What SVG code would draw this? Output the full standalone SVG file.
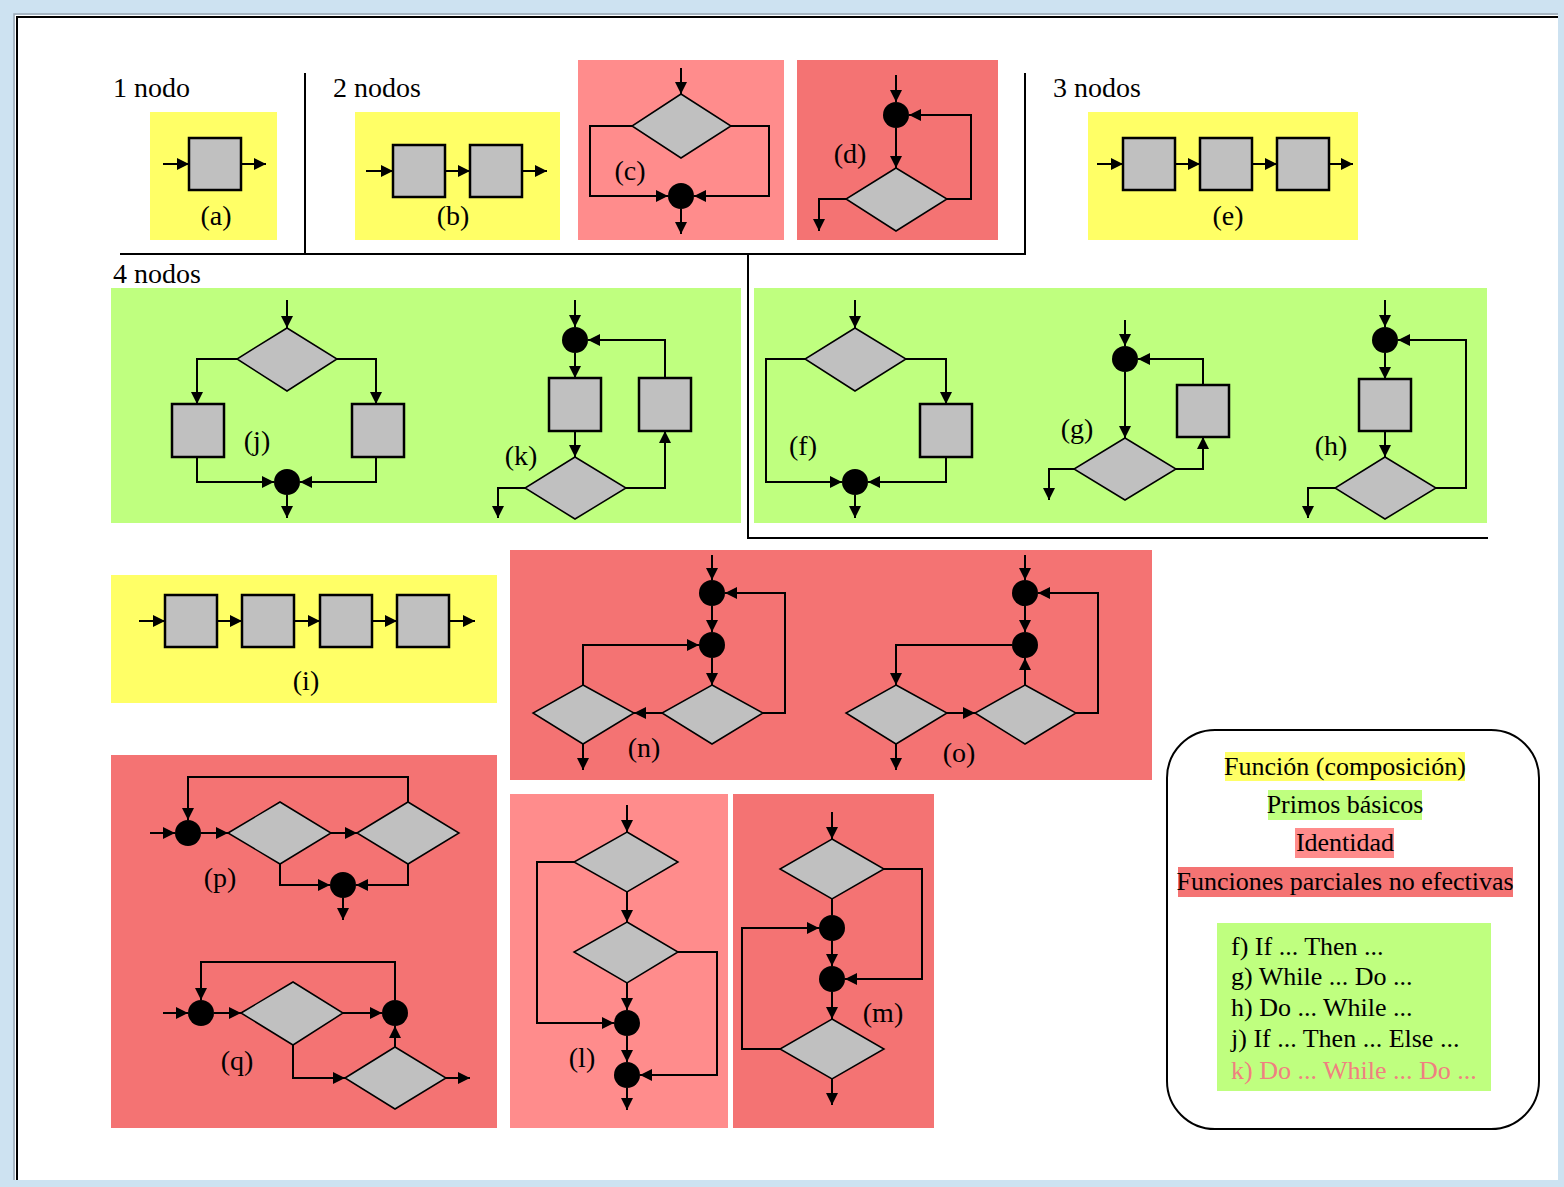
<svg xmlns="http://www.w3.org/2000/svg" width="1564" height="1187" viewBox="0 0 1564 1187">
<defs>
<marker id="ah" viewBox="0 0 12 12" refX="12" refY="6" markerWidth="12" markerHeight="12" markerUnits="userSpaceOnUse" orient="auto"><path d="M0,0 L12,6 L0,12 z" fill="#000"/></marker>
<style>
.y{fill:#ffff66}.g{fill:#bfff7f}.p{fill:#ff8c8c}.r{fill:#f47373}
.box{fill:#c0c0c0;stroke:#000;stroke-width:2.5}
.dia{fill:#c0c0c0;stroke:#000;stroke-width:1.5}
.dot{fill:#000}
.c{fill:none;stroke:#000;stroke-width:2;marker-end:url(#ah)}
.n{fill:none;stroke:#000;stroke-width:2}
.sep{fill:none;stroke:#000;stroke-width:2}
.h{font-family:"Liberation Serif",serif;font-size:28px;fill:#000}
.lb{font-family:"Liberation Serif",serif;font-size:28px;fill:#000;text-anchor:middle}
.lg{font-family:"Liberation Serif",serif;font-size:26px;fill:#000}
</style>
</defs>
<rect x="0" y="0" width="1564" height="1187" fill="#cde2f1"/>
<rect x="15" y="15" width="1543" height="1165" fill="#fff"/>
<path d="M14,1180 V14 H1558" fill="none" stroke="#9aa8b4" stroke-width="1.5"/>
<path d="M17,1180 V17 H1558" fill="none" stroke="#000" stroke-width="2"/>

<g id="separators">
<path class="sep" d="M305,73 V254"/>
<path class="sep" d="M120,254 H1025 V73"/>
<path class="sep" d="M748,254 V538 H1488"/>
</g>

<g id="headings">
<text class="h" x="113" y="97">1 nodo</text>
<text class="h" x="333" y="97">2 nodos</text>
<text class="h" x="1053" y="97">3 nodos</text>
<text class="h" x="113" y="283">4 nodos</text>
</g>

<g id="panels">
<rect class="y" x="150" y="112" width="127" height="128"/>
<rect class="y" x="355" y="112" width="205" height="128"/>
<rect class="p" x="578" y="60" width="206" height="180"/>
<rect class="r" x="797" y="60" width="201" height="180"/>
<rect class="y" x="1088" y="112" width="270" height="128"/>
<rect class="g" x="111" y="288" width="630" height="235"/>
<rect class="g" x="754" y="288" width="733" height="235"/>
<rect class="y" x="111" y="575" width="386" height="128"/>
<rect class="r" x="510" y="550" width="642" height="230"/>
<rect class="r" x="111" y="755" width="386" height="373"/>
<rect class="p" x="510" y="794" width="218" height="334"/>
<rect class="r" x="733" y="794" width="201" height="334"/>
</g>

<g id="connectors">
<!-- a -->
<path class="c" d="M163,164 H189"/><path class="c" d="M241,164 H266"/>
<!-- b -->
<path class="c" d="M366,171 H393"/><path class="c" d="M445,171 H470"/><path class="c" d="M522,171 H547"/>
<!-- c -->
<path class="c" d="M681,68 V94"/>
<path class="c" d="M632,126 H590 V196 H668"/>
<path class="c" d="M731,126 H769 V196 H694"/>
<path class="c" d="M681,209 V234"/>
<!-- d -->
<path class="c" d="M896,75 V102"/>
<path class="c" d="M896,128 V168"/>
<path class="c" d="M947,199 H971 V115 H909"/>
<path class="c" d="M846,199 H819 V231"/>
<!-- e -->
<path class="c" d="M1097,164 H1123"/><path class="c" d="M1175,164 H1200"/><path class="c" d="M1252,164 H1277"/><path class="c" d="M1329,164 H1353"/>
<!-- j -->
<path class="c" d="M287,300 V328"/>
<path class="c" d="M237,359 H197 V404"/>
<path class="c" d="M337,359 H376 V404"/>
<path class="c" d="M197,457 V482 H274"/>
<path class="c" d="M376,457 V482 H300"/>
<path class="c" d="M287,495 V518"/>
<!-- k -->
<path class="c" d="M575,300 V327"/>
<path class="c" d="M575,353 V378"/>
<path class="c" d="M575,431 V457"/>
<path class="c" d="M626,488 H665 V431"/>
<path class="c" d="M665,378 V340 H588"/>
<path class="c" d="M525,488 H498 V518"/>
<!-- f -->
<path class="c" d="M855,300 V328"/>
<path class="c" d="M906,359 H946 V404"/>
<path class="c" d="M946,457 V482 H868"/>
<path class="c" d="M805,359 H766 V482 H842"/>
<path class="c" d="M855,495 V518"/>
<!-- g -->
<path class="c" d="M1125,320 V346"/>
<path class="c" d="M1125,372 V438"/>
<path class="c" d="M1176,469 H1203 V437"/>
<path class="c" d="M1203,385 V359 H1138"/>
<path class="c" d="M1074,469 H1049 V500"/>
<!-- h -->
<path class="c" d="M1385,300 V327"/>
<path class="c" d="M1385,353 V379"/>
<path class="c" d="M1385,431 V457"/>
<path class="c" d="M1436,488 H1466 V340 H1398"/>
<path class="c" d="M1335,488 H1308 V518"/>
<!-- i -->
<path class="c" d="M139,621 H165"/><path class="c" d="M217,621 H242"/><path class="c" d="M294,621 H320"/><path class="c" d="M372,621 H397"/><path class="c" d="M449,621 H475"/>
<!-- n -->
<path class="c" d="M712,555 V580"/>
<path class="c" d="M712,606 V632"/>
<path class="c" d="M712,658 V685"/>
<path class="c" d="M763,713 H785 V593 H725"/>
<path class="c" d="M662,713 H634"/>
<path class="c" d="M583,685 V645 H699"/>
<path class="c" d="M583,744 V770"/>
<!-- o -->
<path class="c" d="M1025,555 V580"/>
<path class="c" d="M1025,606 V632"/>
<path class="c" d="M1076,713 H1098 V593 H1038"/>
<path class="c" d="M1012,645 H896 V685"/>
<path class="c" d="M947,713 H975"/>
<path class="c" d="M1025,685 V658"/>
<path class="c" d="M896,744 V770"/>
<!-- p -->
<path class="c" d="M150,833 H175"/>
<path class="c" d="M201,833 H228"/>
<path class="c" d="M331,833 H357"/>
<path class="c" d="M408,802 V777 H188 V820"/>
<path class="c" d="M280,864 V885 H330"/>
<path class="c" d="M408,864 V885 H356"/>
<path class="c" d="M343,898 V920"/>
<!-- q -->
<path class="c" d="M163,1013 H188"/>
<path class="c" d="M214,1013 H241"/>
<path class="c" d="M343,1013 H382"/>
<path class="c" d="M395,1000 V962 H201 V1000"/>
<path class="c" d="M293,1045 V1078 H345"/>
<path class="c" d="M395,1047 V1026"/>
<path class="c" d="M446,1078 H470"/>
<!-- l -->
<path class="c" d="M627,805 V832"/>
<path class="c" d="M627,892 V922"/>
<path class="c" d="M627,983 V1010"/>
<path class="c" d="M627,1036 V1062"/>
<path class="c" d="M627,1088 V1110"/>
<path class="c" d="M574,862 H537 V1023 H614"/>
<path class="c" d="M678,952 H717 V1075 H640"/>
<!-- m -->
<path class="c" d="M832,812 V839"/>
<path class="n" d="M832,899 V915"/>
<path class="c" d="M832,941 V966"/>
<path class="c" d="M832,992 V1019"/>
<path class="c" d="M884,869 H922 V979 H845"/>
<path class="c" d="M780,1049 H742 V928 H819"/>
<path class="c" d="M832,1079 V1105"/>
</g>

<g id="node-a">
<rect class="box" x="189" y="138" width="52" height="52"/>
<text class="lb" x="216" y="225">(a)</text>
</g>
<g id="node-b">
<rect class="box" x="393" y="145" width="52" height="52"/>
<rect class="box" x="470" y="145" width="52" height="52"/>
<text class="lb" x="453" y="225">(b)</text>
</g>
<g id="node-c">
<polygon class="dia" points="681,94 731,126 681,158 632,126"/>
<circle class="dot" cx="681" cy="196" r="13"/>
<text class="lb" x="630" y="180">(c)</text>
</g>
<g id="node-d">
<circle class="dot" cx="896" cy="115" r="13"/>
<polygon class="dia" points="896,168 947,199 896,231 846,199"/>
<text class="lb" x="850" y="163">(d)</text>
</g>
<g id="node-e">
<rect class="box" x="1123" y="138" width="52" height="52"/>
<rect class="box" x="1200" y="138" width="52" height="52"/>
<rect class="box" x="1277" y="138" width="52" height="52"/>
<text class="lb" x="1228" y="225">(e)</text>
</g>
<g id="node-j">
<polygon class="dia" points="287,328 337,359 287,391 237,359"/>
<rect class="box" x="172" y="404" width="52" height="53"/>
<rect class="box" x="352" y="404" width="52" height="53"/>
<circle class="dot" cx="287" cy="482" r="13"/>
<text class="lb" x="257" y="450">(j)</text>
</g>
<g id="node-k">
<circle class="dot" cx="575" cy="340" r="13"/>
<rect class="box" x="549" y="378" width="52" height="53"/>
<rect class="box" x="639" y="378" width="52" height="53"/>
<polygon class="dia" points="575,457 626,488 575,519 525,488"/>
<text class="lb" x="521" y="465">(k)</text>
</g>
<g id="node-f">
<polygon class="dia" points="855,328 906,359 855,391 805,359"/>
<rect class="box" x="920" y="404" width="52" height="53"/>
<circle class="dot" cx="855" cy="482" r="13"/>
<text class="lb" x="803" y="455">(f)</text>
</g>
<g id="node-g">
<circle class="dot" cx="1125" cy="359" r="13"/>
<polygon class="dia" points="1125,438 1176,469 1125,500 1074,469"/>
<rect class="box" x="1177" y="385" width="52" height="52"/>
<text class="lb" x="1077" y="438">(g)</text>
</g>
<g id="node-h">
<circle class="dot" cx="1385" cy="340" r="13"/>
<rect class="box" x="1359" y="379" width="52" height="52"/>
<polygon class="dia" points="1385,457 1436,488 1385,519 1335,488"/>
<text class="lb" x="1331" y="455">(h)</text>
</g>
<g id="node-i">
<rect class="box" x="165" y="595" width="52" height="52"/>
<rect class="box" x="242" y="595" width="52" height="52"/>
<rect class="box" x="320" y="595" width="52" height="52"/>
<rect class="box" x="397" y="595" width="52" height="52"/>
<text class="lb" x="306" y="690">(i)</text>
</g>
<g id="node-n">
<circle class="dot" cx="712" cy="593" r="13"/>
<circle class="dot" cx="712" cy="645" r="13"/>
<polygon class="dia" points="712,685 763,713 712,744 662,713"/>
<polygon class="dia" points="583,685 634,713 583,744 533,713"/>
<text class="lb" x="644" y="757">(n)</text>
</g>
<g id="node-o">
<circle class="dot" cx="1025" cy="593" r="13"/>
<circle class="dot" cx="1025" cy="645" r="13"/>
<polygon class="dia" points="1025,685 1076,713 1025,744 975,713"/>
<polygon class="dia" points="896,685 947,713 896,744 846,713"/>
<text class="lb" x="959" y="762">(o)</text>
</g>
<g id="node-p">
<circle class="dot" cx="188" cy="833" r="13"/>
<polygon class="dia" points="228,833 280,802 331,833 280,864"/>
<polygon class="dia" points="357,833 408,802 459,833 408,864"/>
<circle class="dot" cx="343" cy="885" r="13"/>
<text class="lb" x="220" y="887">(p)</text>
</g>
<g id="node-q">
<circle class="dot" cx="201" cy="1013" r="13"/>
<polygon class="dia" points="241,1013 293,982 343,1013 293,1045"/>
<circle class="dot" cx="395" cy="1013" r="13"/>
<polygon class="dia" points="345,1078 395,1047 446,1078 395,1109"/>
<text class="lb" x="237" y="1070">(q)</text>
</g>
<g id="node-l">
<polygon class="dia" points="627,832 678,862 627,892 574,862"/>
<polygon class="dia" points="627,922 678,952 627,983 574,952"/>
<circle class="dot" cx="627" cy="1023" r="13"/>
<circle class="dot" cx="627" cy="1075" r="13"/>
<text class="lb" x="582" y="1067">(l)</text>
</g>
<g id="node-m">
<polygon class="dia" points="832,839 884,869 832,899 780,869"/>
<circle class="dot" cx="832" cy="928" r="13"/>
<circle class="dot" cx="832" cy="979" r="13"/>
<polygon class="dia" points="832,1019 884,1049 832,1079 780,1049"/>
<text class="lb" x="883" y="1022">(m)</text>
</g>

<g id="legend">
<rect x="1167" y="730" width="372" height="399" rx="48" ry="48" fill="#fff" stroke="#000" stroke-width="2"/>
<rect class="y" x="1225" y="752" width="240" height="29"/>
<rect class="g" x="1268" y="790" width="154" height="30"/>
<rect class="p" x="1295" y="828" width="99" height="30"/>
<rect class="r" x="1178" y="867" width="335" height="30"/>
<text class="lg" x="1345" y="775" text-anchor="middle">Función (composición)</text>
<text class="lg" x="1345" y="813" text-anchor="middle">Primos básicos</text>
<text class="lg" x="1345" y="851" text-anchor="middle">Identidad</text>
<text class="lg" x="1345" y="890" text-anchor="middle">Funciones parciales no efectivas</text>
<rect class="g" x="1217" y="923" width="274" height="168"/>
<text class="lg" x="1231" y="955">f) If ... Then ...</text>
<text class="lg" x="1231" y="985">g) While ... Do ...</text>
<text class="lg" x="1231" y="1016">h) Do ... While ...</text>
<text class="lg" x="1231" y="1047">j) If ... Then ... Else ...</text>
<text class="lg" x="1231" y="1079" fill="#f08080" style="fill:#f08080">k) Do ... While ... Do ...</text>
</g>
</svg>
